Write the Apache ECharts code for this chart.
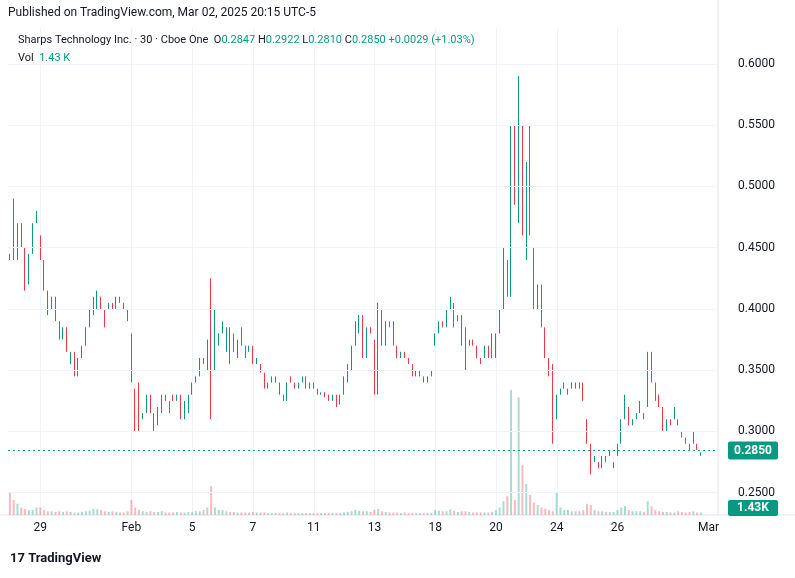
<!DOCTYPE html>
<html><head><meta charset="utf-8">
<script src="https://cdn.jsdelivr.net/npm/echarts@6/dist/echarts.min.js"></script>
<style>html,body{margin:0;padding:0;background:#fff}#c{width:795px;height:578px}</style>
</head><body><div id="c"></div>
<script>
const dayLabels = ['', '29', '', '', 'Feb', '', '5', '', '7', '', '11', '', '13', '', '18', '', '20', '', '24', '', '26', '', ''];
const opens = [
 .445,.49,.44,.47,.45,.42,.445,.47,
 .46,.44,.415,.40,.41,.39,.375,.385,
 .355,.365,.345,.36,.37,.385,.395,.40,
 .41,.40,.40,.405,.40,.41,.405,.40,
 .38,.335,.34,.31,.315,.33,.315,.305,
 .315,.33,.325,.33,.325,.33,.31,.315,
 .33,.34,.345,.36,.35,.425,.35,.37,
 .38,.365,.385,.38,.36,.385,.37,.365,
 .37,.355,.355,.348,.335,.34,.345,.34,
 .33,.325,.345,.34,.335,.34,.345,.335,
 .34,.335,.33,.332,.33,.325,.33,.322,
 .33,.34,.35,.37,.38,.395,.36,.385,
 .375,.33,.40,.37,.39,.39,.37,.36,
 .365,.36,.355,.345,.35,.345,.34,.345,
 .37,.38,.39,.385,.40,.405,.39,.395,
 .385,.37,.375,.37,.36,.36,.37,.36,
 .36,.38,.40,.44,.41,.55,.47,.55,
 .44,.55,.45,.40,.42,.385,.36,.355,
 .31,.33,.335,.33,.335,.34,.335,.34,
 .31,.29,.275,.275,.27,.28,.28,.27,
 .28,.29,.31,.32,.305,.31,.315,.315,
 .32,.365,.34,.33,.32,.30,.31,.31,
 .31,.30,.295,.29,.29,.29,.28,.2847
];
const closes = [
 .44,.44,.47,.45,.415,.445,.47,.48,
 .44,.415,.395,.41,.39,.375,.385,.365,
 .365,.345,.36,.37,.385,.40,.41,.415,
 .40,.385,.405,.40,.41,.405,.40,.39,
 .34,.30,.30,.315,.33,.315,.30,.32,
 .33,.325,.315,.325,.33,.31,.325,.33,
 .34,.345,.36,.355,.375,.31,.40,.38,
 .39,.385,.355,.365,.375,.37,.36,.37,
 .355,.36,.348,.335,.34,.345,.34,.33,
 .325,.34,.34,.335,.34,.345,.335,.34,
 .335,.33,.332,.328,.325,.33,.32,.33,
 .345,.355,.37,.39,.395,.36,.385,.38,
 .33,.405,.37,.39,.385,.37,.36,.365,
 .36,.355,.345,.35,.345,.34,.345,.35,
 .38,.39,.385,.40,.41,.385,.395,.37,
 .35,.375,.37,.36,.355,.37,.36,.38,
 .38,.40,.45,.41,.55,.485,.59,.46,
 .52,.46,.40,.42,.385,.36,.345,.29,
 .33,.335,.34,.335,.34,.335,.34,.325,
 .29,.265,.28,.27,.28,.275,.285,.275,
 .29,.31,.33,.305,.31,.315,.325,.31,
 .365,.34,.325,.32,.30,.31,.305,.32,
 .305,.295,.29,.285,.30,.285,.283,.285
];
const volumes = [
 180,120,90,60,50,40,40,60,
 60,40,30,30,25,30,25,30,
 25,20,20,25,30,35,50,45,
 40,30,25,30,25,20,20,30,
 120,60,40,30,25,30,25,25,
 30,20,20,20,25,20,20,25,
 25,30,30,40,60,230,60,40,
 40,30,25,25,20,20,20,20,
 25,20,20,20,15,15,15,15,
 15,20,15,15,15,15,15,15,
 15,15,15,15,15,15,15,15,
 20,25,30,40,35,30,30,25,
 40,50,30,25,20,20,20,15,
 20,15,15,15,15,15,15,15,
 40,35,30,30,45,35,25,30,
 30,25,20,20,20,20,20,25,
 40,60,110,150,1000,120,940,400,
 250,160,100,80,60,50,40,30,
 180,60,40,40,30,30,30,40,
 90,80,40,30,30,25,25,25,
 40,60,70,40,30,30,30,25,
 110,70,40,30,25,25,20,20,
 30,25,20,25,30,20,20,1.43
];
const PER = 8;
const cats = [];
for (let i = 0; i < opens.length + 3; i++) cats.push(String(i));
const UP = '#089981', DN = '#F23645';
const candle = opens.map((o, i) => [o, closes[i], Math.min(o, closes[i]), Math.max(o, closes[i])]);
const vol = volumes.map((v, i) => ({ value: v, itemStyle: { color: closes[i] >= opens[i] ? 'rgba(8,153,129,0.35)' : 'rgba(242,54,69,0.35)' } }));
function labelAt(i) {
  if (i === opens.length) return 'Mar';
  if (i % PER === 0) return dayLabels[i / PER] || '';
  return '';
}
const chart = echarts.init(document.getElementById('c'));
const font = 'Roboto, "Noto Sans", sans-serif';
chart.setOption({
  animation: false,
  textStyle: { fontFamily: font },
  grid: [
    { left: 8, right: 77, top: 2.7, bottom: 24 },
    { left: 8, right: 77, top: 390, bottom: 63 }
  ],
  xAxis: [
    { type: 'category', data: cats, gridIndex: 0, show: false, boundaryGap: true },
    { type: 'category', data: cats, gridIndex: 1, boundaryGap: true,
      axisLine: { show: false }, axisTick: { show: false },
      axisLabel: { interval: (i) => labelAt(i) !== '', formatter: (v, i) => labelAt(i), color: '#131722', fontSize: 12, margin: 7, fontFamily: font },
      splitLine: { show: false } }
  ],
  yAxis: [
    { type: 'value', gridIndex: 0, position: 'right', min: 0.2, max: 0.65, interval: 0.05,
      axisLine: { show: false }, axisTick: { show: false }, splitLine: { show: false },
      axisLabel: { color: '#131722', fontSize: 12, margin: 20, fontFamily: font,
        formatter: v => (v < 0.24 || v > 0.61) ? '' : v.toFixed(4) } },
    { type: 'value', gridIndex: 1, max: 1000, show: false }
  ],
  series: [
    { type: 'bar', xAxisIndex: 1, yAxisIndex: 1, data: vol, barWidth: 2, z: 1 },
    { type: 'candlestick', xAxisIndex: 0, yAxisIndex: 0, data: candle, barWidth: 1, z: 3,
      itemStyle: { color: UP, color0: DN, borderColor: UP, borderColor0: DN, borderWidth: 1 },
      markLine: { silent: true, symbol: 'none', animation: false, label: { show: false },
        data: [0.25,0.3,0.35,0.4,0.45,0.5,0.55,0.6].map(v => ({ yAxis: v, lineStyle: { color: '#f0f3fa', type: 'solid', width: 1 } })) } }
  ]
});
const yp = Math.round(chart.convertToPixel({ xAxisIndex: 0, yAxisIndex: 0 }, [0, 0.285])[1]) + 0.5;
const vlines = [];
for (let d = 1; d < dayLabels.length; d++) {
  if (!dayLabels[d]) continue;
  const x = Math.round(chart.convertToPixel({ xAxisIndex: 1, yAxisIndex: 1 }, [d * PER, 0])[0]) + 0.5;
  vlines.push({ type: 'line', z: -10, shape: { x1: x, y1: 28, x2: x, y2: 515 }, style: { stroke: '#f0f3fa' } });
}
chart.setOption({
  graphic: vlines.concat([
    { type: 'line', shape: { x1: 718, y1: 0, x2: 718, y2: 515 }, style: { stroke: '#e0e3eb' } },
    { type: 'line', shape: { x1: 0, y1: 515, x2: 795, y2: 515 }, style: { stroke: '#e0e3eb' } },
    { type: 'line', shape: { x1: 8, y1: yp, x2: 718, y2: yp }, style: { stroke: UP, lineDash: [2, 3] } },
    { type: 'rect', shape: { x: 728, y: yp - 9, width: 50, height: 18, r: 2 }, style: { fill: UP } },
    { type: 'text', x: 753, y: yp, style: { text: '0.2850', fill: '#fff', font: 'bold 12px ' + font, align: 'center', verticalAlign: 'middle' } },
    { type: 'rect', shape: { x: 728, y: 500, width: 50, height: 16, r: 2 }, style: { fill: UP } },
    { type: 'text', x: 753, y: 508, style: { text: '1.43K', fill: '#fff', font: 'bold 12px ' + font, align: 'center', verticalAlign: 'middle' } },
    { type: 'text', left: 8, top: 7, style: { text: 'Published on TradingView.com, Mar 02, 2025 20:15 UTC-5', fill: '#131722', font: '12px ' + font } },
    { type: 'text', left: 18, top: 35, style: {
      text: '{a|Sharps Technology Inc. · 30 · Cboe One  }{a|O}{g|0.2847 }{a|H}{g|0.2922 }{a|L}{g|0.2810 }{a|C}{g|0.2850 }{g|+0.0029 (+1.03%)}',
      rich: { a: { fill: '#131722', font: '11px ' + font }, g: { fill: UP, font: '11px ' + font } } } },
    { type: 'text', left: 18, top: 53, style: { text: '{a|Vol  }{g|1.43 K}', rich: { a: { fill: '#131722', font: '11px ' + font }, g: { fill: UP, font: '11px ' + font } } } },
    { type: 'text', left: 10, top: 552, style: { text: '{l|17}{t| TradingView}', rich: { l: { fill: '#131722', font: 'bold 13px ' + font }, t: { fill: '#131722', font: 'bold 13px ' + font } } } }
  ])
});
</script></body></html>
